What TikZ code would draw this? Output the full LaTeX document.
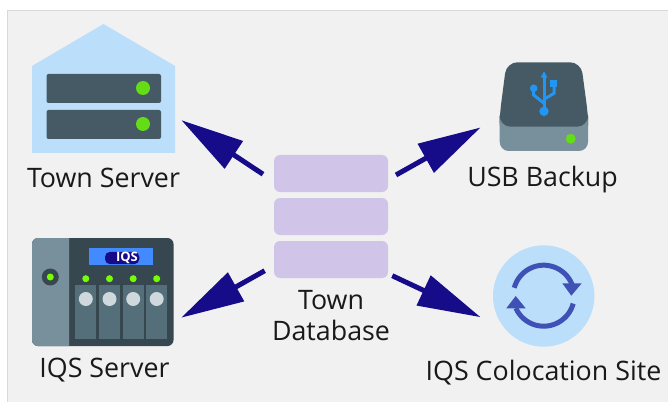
\documentclass[tikz,border=0pt]{standalone}
\usepackage{fontspec}
\setmainfont{Open Sans}
\usetikzlibrary{arrows.meta,shapes}
\definecolor{panelgray}{HTML}{F1F1F1}
\definecolor{panelline}{HTML}{D9D9D9}
\definecolor{lightblue}{HTML}{BBDEFB}
\definecolor{slatedark}{HTML}{455A64}
\definecolor{slatemid}{HTML}{78909C}
\definecolor{slatedeep}{HTML}{37474F}
\definecolor{slatebay}{HTML}{546E7A}
\definecolor{ledgreen}{HTML}{64DD17}
\definecolor{ledbright}{HTML}{76FF03}
\definecolor{usbblue}{HTML}{2196F3}
\definecolor{syncblue}{HTML}{3F51B5}
\definecolor{dbpurple}{HTML}{D1C4E9}
\definecolor{arrowblue}{HTML}{160C8A}
\definecolor{displayblue}{HTML}{448AFF}
\definecolor{knobgray}{HTML}{CFD8DC}
\tikzstyle{dbbox}=[rectangle,rounded corners=6pt,fill=dbpurple,inner sep=0pt,outer sep=0pt,minimum width=114pt,minimum height=37pt]
\tikzstyle{icon}=[rectangle,inner sep=0pt,outer sep=0pt]
\tikzstyle{srvbar}=[rectangle,rounded corners=2pt,fill=slatedark,inner sep=0pt,minimum width=114.5pt,minimum height=29pt]
\tikzstyle{led}=[circle,fill=ledgreen,inner sep=0pt]
\tikzstyle{nasled}=[circle,fill=ledbright,inner sep=0pt,minimum size=7pt]
\tikzstyle{bay}=[rectangle,fill=slatebay,inner sep=0pt,minimum width=21pt,minimum height=54.3pt]
\tikzstyle{knob}=[circle,fill=knobgray,inner sep=0pt,minimum size=14pt]
\tikzstyle{caption}=[text=black!90,align=center,inner sep=0pt,font=\fontsize{26.8}{31}\selectfont]
\tikzstyle{bigarrow}=[draw=arrowblue,line width=5pt,-{Triangle[length=63pt,width=32pt]}]
\tikzstyle{syncarc}=[draw=syncblue,line width=5pt]

\begin{document}
\begin{tikzpicture}[x=1pt,y=1pt]
  \useasboundingbox (0,0) rectangle (668,402);
  % panel
  \fill[panelgray] (7.5,0) rectangle (668,391.5);
  \draw[panelline,line width=1.5pt] (7.5,0) -- (7.5,391.5) -- (668,391.5);
  % database
  \node[dbbox] (db1) at (331,228.5){};
  \node[dbbox,below of=db1,node distance=43pt] (db2){};
  \node[dbbox,below of=db2,node distance=43pt] (db3){};
  \node[caption] (dbname) at (331,86){Town\\Database};
  % town server
  \fill[lightblue] (103.5,378) -- (175,336) -- (175,249) -- (32,249) -- (32,336) -- cycle;
  \node[icon,minimum width=143pt,minimum height=129pt] (townsrv) at (103.5,313.5){};
  \node[srvbar] (bar1) at (103.75,313.5){};
  \node[srvbar] (bar2) at (103.75,277.5){};
  \node[led,minimum size=14pt] (barled1) at (143,314){};
  \node[led,minimum size=14pt] (barled2) at (143,278){};
  \node[caption,anchor=base] (townname) at (103.5,214.7){Town Server};
  % usb backup
  \node[icon,minimum width=88.5pt,minimum height=89pt] (usb) at (544,295.5){};
  \fill[slatemid,rounded corners=9pt] (499.7,251) rectangle (588,295);
  \fill[slatedark,rounded corners=11pt] (499.7,275.3) -- (499.7,287) -- (506.5,339.7) -- (581,339.7) -- (588,287) -- (588,275.3) -- cycle;
  \node[led,minimum size=10pt] (usbled) at (570.7,263.3){};
  \draw[usbblue,line width=3pt] (544,326) -- (544,290.7);
  \draw[usbblue,line width=3pt] (533.7,313.7) -- (533.7,307) -- (544,298.7);
  \draw[usbblue,line width=3pt] (554,316) -- (554,308.7) -- (544,302.7);
  \fill[usbblue] (544,330.7) -- (547.5,324.3) -- (540.5,324.3) -- cycle;
  \fill[usbblue] (550,314.7) rectangle (557.3,322);
  \fill[usbblue] (533.7,313.7) circle (3.8);
  \fill[usbblue] (544,290.7) circle (4.7);
  \node[caption,anchor=base] (usbname) at (542.5,215.3){USB Backup};
  % iqs server
  \fill[slatedeep,rounded corners=6pt] (32,56) rectangle (173.5,164);
  \fill[slatemid] (69,56) [rounded corners=6pt] -- (32,56) -- (32,164) [sharp corners] -- (69,164) -- cycle;
  \node[icon,minimum width=141.5pt,minimum height=108pt] (iqssrv) at (102.75,110){};
  \node[rectangle,fill=displayblue,inner sep=0pt,minimum width=64.3pt,minimum height=17pt] (display) at (121.15,145.5){};
  \node[rectangle,rounded corners=5pt,fill=arrowblue,inner sep=0pt,minimum width=34.3pt,minimum height=12.3pt] (logo) at (122.15,144){};
  \node[text=white,inner sep=0pt,font=\fontsize{13}{14}\selectfont\bfseries] (logotext) at (127,144){IQS};
  \node[circle,fill=slatedeep,inner sep=0pt,minimum size=17pt] (hole) at (50.3,125){};
  \node[nasled] (holeled) at (50.3,125){};
  \node[nasled] (led1) at (85.8,123.3){};
  \node[nasled] (led2) at (109.5,123.3){};
  \node[nasled] (led3) at (133.2,123.3){};
  \node[nasled] (led4) at (156.7,123.3){};
  \node[bay] (bay1) at (85.8,89.85){};
  \node[bay] (bay2) at (109.5,89.85){};
  \node[bay] (bay3) at (133.2,89.85){};
  \node[bay] (bay4) at (156.7,89.85){};
  \node[knob] (knob1) at (85.8,103){};
  \node[knob] (knob2) at (109.5,103){};
  \node[knob] (knob3) at (133.2,103){};
  \node[knob] (knob4) at (156.7,103){};
  \node[caption,anchor=base] (iqsname) at (104.5,24.3){IQS Server};
  % colocation site
  \node[circle,fill=lightblue,inner sep=0pt,outer sep=0pt,minimum size=101.4pt] (coloc) at (543.7,106){};
  \draw[syncarc] (543.7,106.3) ++(165:30.5) arc[start angle=165,end angle=20,radius=30.5];
  \draw[syncarc] (543.7,106.3) ++(-15:30.5) arc[start angle=-15,end angle=-156,radius=30.5];
  \fill[syncblue] (562.3,118.7) -- (581.7,118.7) -- (571.3,106.3) -- cycle;
  \fill[syncblue] (506.3,93.7) -- (525.7,93.7) -- (515.7,106) -- cycle;
  \node[caption,anchor=base] (colocname) at (543.5,21.3){IQS Colocation Site};
  % arrows
  \draw[bigarrow,shorten <=13.2pt,shorten >=7.6pt] (db1.188.8) -- (townsrv.-21.5);
  \draw[bigarrow,shorten <=9.2pt,shorten >=21.9pt] (db1.-6) -- (usb.193);
  \draw[bigarrow,shorten <=10.7pt,shorten >=8.8pt] (db3.186.2) -- (iqssrv.-23.6);
  \draw[bigarrow,shorten <=4.7pt,shorten >=26.8pt] (db3.-14.9) -- (coloc.220.6);
\end{tikzpicture}
\end{document}
